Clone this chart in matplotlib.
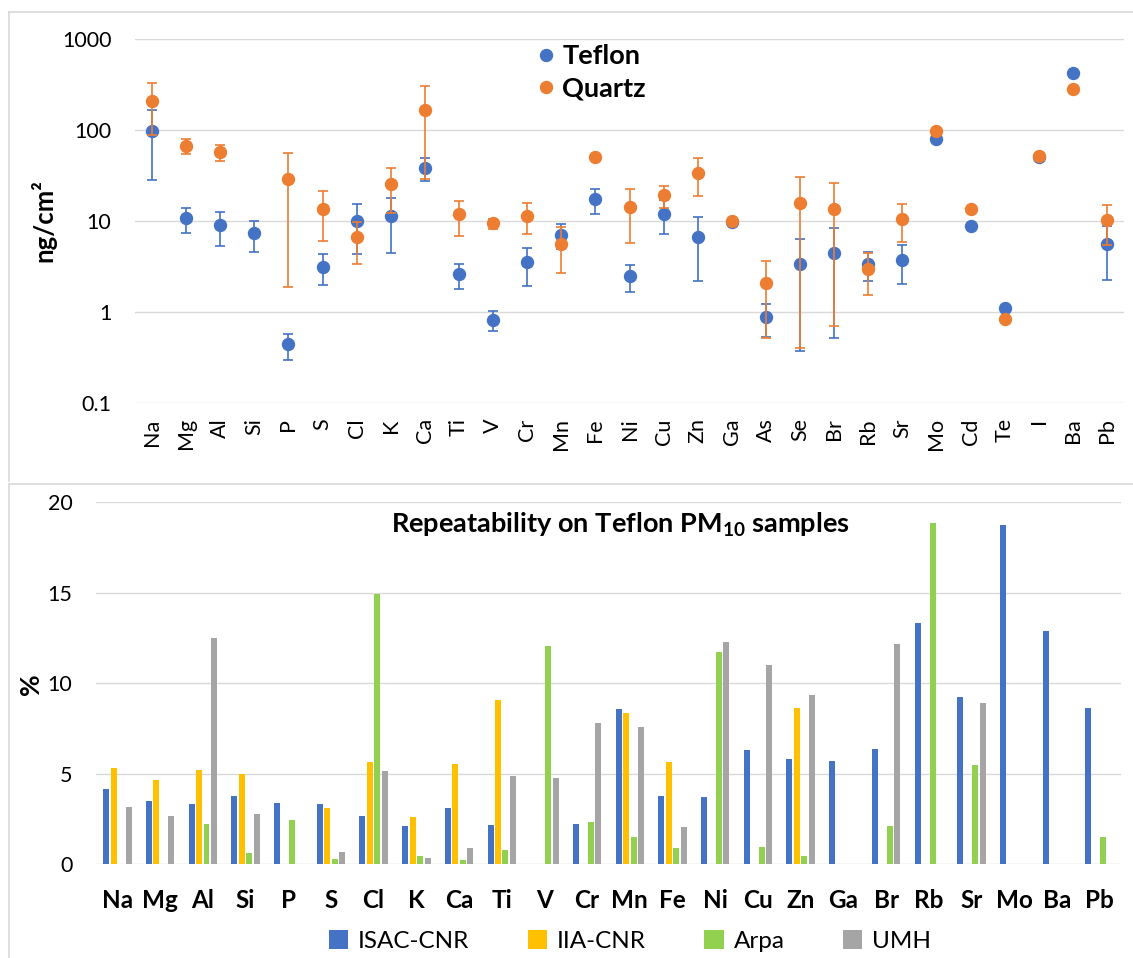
import numpy as np
import matplotlib
matplotlib.use("Agg")
import matplotlib.pyplot as plt
from matplotlib.lines import Line2D

plt.rcParams["font.family"] = ["Lato", "DejaVu Sans"]
plt.rcParams["mathtext.fontset"] = "custom"
plt.rcParams["mathtext.rm"] = "Lato"
plt.rcParams["mathtext.bf"] = "Lato:bold"

# ---- top panel: concentrations on Teflon and Quartz filters (ng/cm2)
elements_top = ["Na", "Mg", "Al", "Si", "P", "S", "Cl", "K", "Ca", "Ti", "V", "Cr",
                "Mn", "Fe", "Ni", "Cu", "Zn", "Ga", "As", "Se", "Br", "Rb", "Sr",
                "Mo", "Cd", "Te", "I", "Ba", "Pb"]
teflon = [97, 10.7, 9.0, 7.3, 0.44, 3.15, 9.9, 11.3, 38.5, 2.6, 0.82, 3.5,
          7.1, 17.3, 2.47, 12.0, 6.7, 9.75, 0.88, 3.37, 4.42, 3.37, 3.73,
          79.6, 8.8, 1.1, 50.5, 426, 5.55]
teflon_err = [69, 3.3, 3.7, 2.7, 0.14, 1.15, 5.6, 6.8, 11, 0.8, 0.2, 1.55,
              2.2, 5.4, 0.8, 4.8, 4.5, 0, 0.35, 3.0, 3.9, 1.2, 1.7,
              0, 0, 0, 0, 0, 3.3]
quartz = [208, 67, 57, np.nan, 28.9, 13.6, 6.6, 25.3, 166, 11.8, 9.4, 11.4,
          5.6, 50, 14.1, 19.2, 34, 10.1, 2.07, 15.6, 13.5, 2.99, 10.6,
          98.4, 13.6, 0.845, 51.4, 280, 10.3]
quartz_err = [120, 12, 11.4, 0, 27, 7.6, 3.2, 13, 137, 4.9, 1.2, 4.2,
              2.9, 3, 8.3, 5.3, 15, 0, 1.55, 15.2, 12.8, 1.45, 4.7,
              0, 0, 0, 0, 0, 4.8]

# ---- bottom panel: repeatability (%) per laboratory
elements_bot = ["Na", "Mg", "Al", "Si", "P", "S", "Cl", "K", "Ca", "Ti", "V", "Cr",
                "Mn", "Fe", "Ni", "Cu", "Zn", "Ga", "Br", "Rb", "Sr", "Mo", "Ba", "Pb"]
n = np.nan
isac = [4.18, 3.51, 3.35, 3.77, 3.4, 3.35, 2.67, 2.12, 3.11, 2.17, n, 2.23,
        8.56, 3.77, 3.72, 6.31, 5.82, 5.71, 6.35, 13.35, 9.23, 18.73, 12.89, 8.65]
iia = [5.32, 4.66, 5.21, 4.99, n, 3.11, 5.64, 2.61, 5.54, 9.08, n, n,
       8.34, 5.65, n, n, 8.64, n, n, n, n, n, n, n]
arpa = [n, n, 2.23, 0.62, 2.46, 0.29, 14.95, 0.46, 0.24, 0.81, 12.06, 2.36,
        1.52, 0.88, 11.71, 0.96, 0.48, n, 2.1, 18.84, 5.47, n, n, 1.51]
umh = [3.17, 2.67, 12.49, 2.78, n, 0.68, 5.17, 0.37, 0.88, 4.9, 4.79, 7.79,
       7.59, 2.08, 12.28, 10.99, 9.37, n, 12.19, n, 8.9, n, n, n]
labs = ["ISAC-CNR", "IIA-CNR", "Arpa", "UMH"]

BLUE, ORANGE = "#4472C4", "#ED7D31"
bar_colors = ["#4472C4", "#FFC000", "#92D050", "#A5A5A5"]
GRID = "#D9D9D9"

W, H = 1133, 958
fig = plt.figure(figsize=(W / 100, H / 100), dpi=100)


def fx(px):
    return px / W


def fy(py):
    return 1 - py / H


# chart frames (Excel chart areas, cropped on right / bottom)
for top, bottom in [(11.5, 481), (484, 960)]:
    fig.add_artist(Line2D([fx(8.5), fx(8.5)], [fy(top), fy(bottom)], color=GRID, lw=1.2))
    fig.add_artist(Line2D([fx(8.5), 1.0], [fy(top), fy(top)], color=GRID, lw=1.2))

# ---------------- top chart
ax1 = fig.add_axes([fx(135), fy(403), fx(1124) - fx(135), fy(39) - fy(403)])
x1 = np.arange(len(elements_top))
ax1.errorbar(x1, teflon, yerr=teflon_err, fmt="o", color=BLUE, ms=8.6,
             elinewidth=1.2, capsize=3.3, capthick=1.2, zorder=3)
ax1.errorbar(x1, quartz, yerr=quartz_err, fmt="o", color=ORANGE, ms=8.6,
             elinewidth=1.2, capsize=3.3, capthick=1.2, zorder=4)
ax1.set_yscale("log")
ax1.set_ylim(0.1, 1000)
ax1.set_xlim(-0.5, len(elements_top) - 0.5)
ax1.set_yticks([0.1, 1, 10, 100, 1000])
ax1.set_yticklabels(["0.1", "1", "10", "100", "1000"])
ax1.minorticks_off()
ax1.set_xticks(x1)
ax1.set_xticklabels(elements_top, rotation=90, va="top")
ax1.tick_params(axis="both", length=0, labelsize=15.5)
ax1.tick_params(axis="y", pad=17)
ax1.tick_params(axis="x", pad=11)
ax1.grid(axis="y", color=GRID, lw=1)
ax1.set_axisbelow(True)
for s in ax1.spines.values():
    s.set_visible(False)
fig.text(fx(43), fy(221), "ng/cm²", rotation=90, ha="center", va="center",
         fontsize=18.5, fontweight="bold")
h1 = [Line2D([], [], ls="", marker="o", color=c, ms=8.6) for c in (BLUE, ORANGE)]
fig.legend(h1, ["Teflon", "Quartz"], loc="upper left", bbox_to_anchor=(fx(538), fy(44)),
           frameon=False, prop={"weight": "bold", "size": 19.5}, handlelength=0.6,
           handletextpad=0.3, borderpad=0, borderaxespad=0, labelspacing=0.3)

# ---------------- bottom chart
ax2 = fig.add_axes([fx(96), fy(864.3), fx(1121) - fx(96), fy(502.3) - fy(864.3)])
x2 = np.arange(len(elements_bot))
step, width = 0.175, 0.14
bars = []
for i, (vals, c) in enumerate(zip([isac, iia, arpa, umh], bar_colors)):
    bars.append(ax2.bar(x2 + (i - 1.5) * step, vals, width=width, color=c, zorder=3))
ax2.set_ylim(0, 20)
ax2.set_xlim(-0.5, len(elements_bot) - 0.5)
ax2.set_yticks([0, 5, 10, 15, 20])
ax2.set_xticks(x2)
ax2.set_xticklabels(elements_bot, fontweight="bold", fontsize=17.5)
ax2.tick_params(axis="y", length=0, labelsize=15.5, pad=17)
ax2.tick_params(axis="x", length=0, pad=18)
ax2.grid(axis="y", color=GRID, lw=1)
ax2.set_axisbelow(True)
for s in ax2.spines.values():
    s.set_visible(False)
fig.text(fx(31), fy(684), "%", rotation=90, ha="center", va="center",
         fontsize=19, fontweight="bold")
fig.text(fx(620), fy(525), r"Repeatability on Teflon PM$_{\mathbf{10}}$ samples",
         ha="center", va="center", fontsize=19.5, fontweight="bold")
fig.legend(bars, labs, loc="center", bbox_to_anchor=(fx(630), fy(941)), ncol=4,
           frameon=False, fontsize=17.5, handlelength=0.8, handleheight=0.8,
           handletextpad=0.4, columnspacing=2.4, borderpad=0, borderaxespad=0)

fig.savefig("out.png", dpi=100)
